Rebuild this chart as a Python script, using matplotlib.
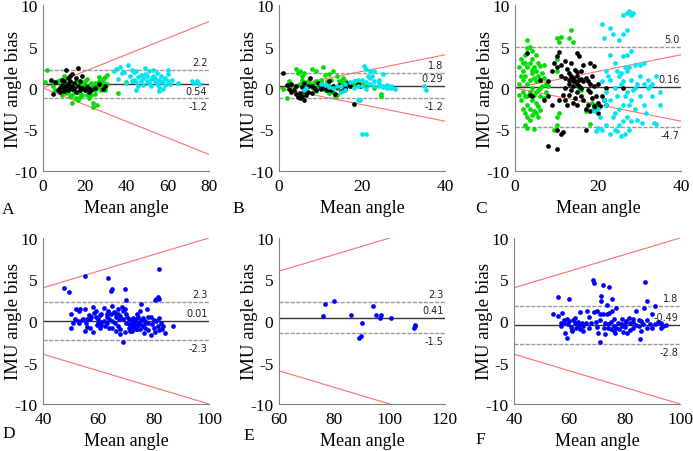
import numpy as np
import matplotlib
matplotlib.use("Agg")
import matplotlib.pyplot as plt

plt.rcParams["axes.unicode_minus"] = False

# ---- data (Bland-Altman style) ----
panel_letters = ["A", "B", "C", "D", "E", "F"]
x_limits = [(0, 80), (0, 40), (0, 40), (40, 100), (60, 120), (40, 100)]
x_ticks = [[0, 20, 40, 60, 80], [0, 20, 40], [0, 20, 40],
           [40, 60, 80, 100], [60, 80, 100, 120], [40, 60, 80, 100]]
y_ticks = [-10, -5, 0, 5, 10]

bias_mean = [0.54, 0.29, 0.16, 0.01, 0.41, -0.49]
loa_upper = [2.2, 1.8, 5.0, 2.3, 2.3, 1.8]
loa_lower = [-1.2, -1.2, -4.7, -2.3, -1.5, -2.8]
mean_text = ["0.54", "0.29", "0.16", "0.01", "0.41", "-0.49"]
upper_text = ["2.2", "1.8", "5.0", "2.3", "2.3", "1.8"]
lower_text = ["-1.2", "-1.2", "-4.7", "-2.3", "-1.5", "-2.8"]
mean_label_below = [True, False, False, False, False, False]
ref_slope = 0.1  # +-10 % of mean angle

a_green = [(2,2.2),(1,0.7),(4,0.8),(5,0.3),(6,-0.3),(7,0.9),(8,1.0),(9,0.4),(10,-0.2),(11,0.1),
           (12,-0.5),(13,-1.0),(14,-1.8),(14,-0.8),(15,-0.4),(16,-1.2),(17,-1.5),(18,0.2),(18,-0.6),
           (19,0.5),(20,-0.3),(20,0.8),(21,-0.8),(21,0.3),(22,-0.1),(23,0.6),(24,-1.8),(24,-2.3),
           (25,-0.2),(26,-2.0),(26,0.4),(27,0.9),(27,1.3),(28,0.2),(28,-0.2),(29,0.7),(29,1.1),
           (30,0.0),(30,-0.3),(31,0.5),(31,1.6),(30,1.3),(29,-0.1),(27,0.0),(25,0.6),(23,-0.9),
           (22,-1.2),(19,-0.9),(17,0.4),(16,0.9),(15,-0.1),(13,0.3),(12,0.6),(11,-0.6),(10,1.4),
           (9,-0.9),(8,0.1),(36,-0.6),(40,0.7),(21,1.1),(18,-1.1),(25,-0.7),(28,0.6),(24,0.2),
           (20,0.1),(17,-0.5),(14,0.5)]
a_black = [(4,1.0),(5,-0.7),(6,0.7),(7,-0.2),(8,-0.5),(9,1.0),(9,0.4),(10,0.0),(10,0.8),(11,0.2),
           (11,2.2),(12,0.5),(12,-0.3),(13,0.9),(13,1.5),(14,0.3),(14,1.7),(15,0.0),(15,0.6),
           (16,1.2),(16,-0.5),(17,2.4),(17,0.3),(18,0.8),(18,-0.2),(19,1.5),(19,0.0),(20,-0.3),
           (21,0.1),(22,-0.5),(23,-0.2),(25,0.0),(27,0.5),(29,-0.1),(30,0.3),(8,0.0),(10,-0.4),
           (13,0.0),(14,-0.1),(22,0.0),(12,1.2)]
a_cyan = [(34,2.0),(35,2.3),(36,1.1),(37,2.5),(38,1.8),(40,0.6),(41,2.8),(42,1.5),(43,2.2),(44,1.9),
          (44,1.0),(45,2.0),(45,0.7),(46,1.3),(46,0.2),(47,1.6),(47,0.9),(48,1.2),(48,0.4),(49,2.4),
          (49,1.7),(50,0.9),(50,1.4),(51,0.6),(51,2.0),(52,1.1),(52,0.3),(53,1.5),(53,2.2),(54,0.8),
          (54,1.2),(55,0.5),(55,1.8),(56,1.0),(56,0.1),(57,1.4),(57,0.7),(58,0.9),(58,-0.1),(59,1.2),
          (59,0.4),(60,2.2),(60,1.7),(60,0.8),(61,0.5),(62,1.0),(65,0.6),(72,0.9),(73,0.6),(74,0.8),
          (75,0.5),(43,0.8),(39,1.9),(45,-0.3),(56,-0.4)]

b_green = [(1,-0.1),(2,-1.2),(4,2.3),(4.5,1.8),(5,2.0),(5.5,1.5),(6,1.8),(7,0.8),(8,2.3),(9,2.0),
           (10,0.7),(10.5,2.5),(11,1.6),(12,1.7),(13,2.0),(14,1.5),(15,0.9),(16,0.8),(17,0.6),(18,0.5),
           (19,0.7),(20,0.5),(24.5,-0.7),(24.5,-1.0),(3,0.4),(4,0.2),(5,0.5),(6,0.7),(7,0.2),(8,0.1),
           (9,0.9),(10,0.4),(11,-0.2),(12,0.3),(13,-0.5),(13.5,-1.0),(14,0.0),(15,0.6),(16,-0.3),
           (17,0.2),(14.5,0.8),(12.5,1.0),(11.5,0.8),(9.5,0.0),(8.5,0.6),(6.5,-0.2),(7.5,0.5),
           (5.5,1.0),(3.5,0.0),(2.5,0.9),(18.5,0.9),(21,0.2),(23,0.0),(15.5,1.2),(13,0.3),(10,1.0),
           (11,0.1),(9,-0.4),(12,-0.6),(14,-0.9)]
b_black = [(1,1.8),(2,0.4),(2.5,-0.1),(3,0.5),(3.5,-0.3),(4,-0.7),(4.5,-1.1),(5,-1.2),(5,-0.6),
           (5.5,-1.0),(6,-1.4),(6,-0.4),(6.5,-0.8),(7,-0.5),(7,0.2),(7.5,1.2),(8,0.3),(8.5,0.0),
           (9,-0.2),(9.5,0.6),(10,-0.1),(10.5,0.3),(11,0.0),(11.5,-0.2),(12,0.8),(12.5,-0.3),(13,0.2),
           (13.5,-0.7),(14,0.1),(14.5,0.4),(15,-0.4),(15.5,0.2),(16,0.0),(17,0.3),(18,-1.9),(19,0.5),
           (19.5,0.3),(3,-0.5),(4,0.2),(5.5,0.1),(6,0.6),(8,-0.6),(10,0.1),(12,-0.1),(16.5,0.6)]
b_cyan = [(20.5,2.6),(21,2.3),(22,2.1),(23,2.0),(21.5,1.5),(25,1.7),(20,1.0),(19,1.0),(18,0.8),
          (17,0.7),(16,0.5),(22,0.5),(23,0.3),(24,0.2),(25,0.1),(26,0.0),(27,0.0),(28,-0.1),(23,0.9),
          (24,0.6),(26,0.4),(20,0.2),(21,-0.1),(19,0.3),(18,0.0),(15,0.3),(14,0.2),(13,0.0),(12,0.1),
          (11,0.4),(10,0.5),(22,1.2),(24,1.0),(25,0.3),(27,0.2),(35,0.3),(35.5,-0.2),(20,-5.6),
          (21,-5.6),(19,-1.5),(19.5,-1.5),(15,-0.5),(16,-0.2),(21,0.7),(22.5,1.5),(6,-0.3),(6.5,0.0)]

c_green = [(1,2.5),(1,0.5),(1.5,3.5),(1.5,-1.5),(2,2.0),(2,-0.5),(2,1.0),(2,-2.5),(2.5,4.0),(2.5,3.0),
           (2.5,1.5),(2.5,-1.0),(2.5,-3.0),(3,5.8),(3,4.8),(3,2.5),(3,0.5),(3,-2.0),(3,-3.5),(3,-4.8),
           (3.5,5.0),(3.5,3.0),(3.5,1.0),(3.5,-0.5),(3.5,-2.5),(4,4.5),(4,3.5),(4,1.8),(4,0.0),
           (4,-1.5),(4,-3.3),(4.5,2.5),(4.5,1.2),(4.5,-0.8),(4.5,-2.8),(4.5,-4.9),(5,4.0),(5,2.0),
           (5,0.8),(5,-1.8),(5,-3.0),(5.5,3.0),(5.5,1.5),(5.5,-0.3),(5.5,-2.2),(5.5,-3.5),(6,2.6),
           (6,1.0),(6,-1.0),(6,-2.6),(6.5,0.3),(6.5,1.8),(7,2.8),(7,1.2),(7,-1.2),(7.5,0.5),(7.5,-0.5),
           (8,0.2),(10,6.0),(10.5,5.5),(10,3.5),(10,2.0),(10.5,-3.0),(10,-4.5),(10,-3.5),(9.5,-5.0),
           (11,6.1),(13.5,7.0),(13,6.0),(14,5.5),(16,-0.3),(17,-2.8),(18,-4.3),(19,-2.5),(19.5,-2.0),
           (18.5,-1.8),(1.5,1.5),(2,3.0),(3,-1.0),(4,2.2),(5,-0.5),(6,0.0),(1,-0.8),(2.5,-4.5),
           (3.5,-3.8),(15.5,0.0)]
c_black = [(3,4.2),(3.5,-0.8),(4,-1.0),(6,1.0),(7,-1.5),(8,-7.0),(8,0.8),(9,2.0),(9.5,3.0),(10,3.8),
           (10,-7.3),(10,2.5),(10,-5.0),(10.5,4.3),(11,1.5),(11,-5.5),(11.5,-5.3),(11,2.8),(12,3.2),
           (12,0.0),(12,-1.5),(12.5,2.3),(13,0.5),(13,-0.8),(13,1.8),(13.5,3.0),(13.5,-0.3),(14,1.2),
           (14,0.2),(14,-1.8),(14.5,2.2),(14.5,0.8),(15,4.2),(15,1.5),(15,0.5),(15,-0.5),(15,-2.0),
           (15.5,3.8),(15.5,1.0),(16,0.0),(16,-1.0),(16,2.0),(16.5,0.8),(16.5,-1.5),(17,-2.5),
           (17,1.2),(17,-5.0),(17.5,-0.2),(17.5,-2.0),(18,3.0),(18,-0.5),(18,-2.8),(18.5,1.5),
           (18.5,-1.2),(19,2.6),(19,0.2),(19,-2.2),(19.5,-1.0),(20,0.5),(20,-1.8),(20,-3.0),(21,-1.0),
           (21.5,-1.5),(22,0.0),(22,-2.0),(14,0.9),(13,1.0),(15.5,0.2),(16,1.1),(12,1.2),(11.5,-0.8),
           (14.5,-1.2),(10.5,-1.5),(17.5,0.8),(18,0.5),(16.5,2.8),(13.5,1.5),(12.5,-2.0),(9,-2.0),
           (8,-1.0),(19.5,-2.5),(20.5,-2.2),(26,0.0),(15,1.9)]
c_cyan = [(21,7.7),(21.5,6.0),(22,2.0),(22,-2.0),(22,-4.5),(23,7.2),(23,4.0),(23,1.0),(23,-1.5),
          (23,-5.5),(23.5,6.5),(24,3.0),(24,0.0),(24,-3.0),(24,-5.0),(24.5,2.0),(24.5,-1.0),(25,5.8),
          (25,1.5),(25,-2.5),(25,-4.5),(25.5,0.5),(25.5,-5.8),(26,8.8),(26,6.5),(26,3.8),(26,0.8),
          (26,-2.0),(26,-4.0),(26.5,-1.0),(26.5,-5.5),(27,9.0),(27,7.0),(27,4.0),(27,2.0),(27,-0.5),
          (27,-3.5),(27.5,9.3),(27.5,2.5),(27.5,-5.0),(28,8.8),(28,4.5),(28,1.0),(28,-1.5),(28,-4.0),
          (28.5,9.0),(29,2.8),(29,0.0),(29,-2.5),(29.5,-3.8),(30,1.5),(30,-1.0),(30,2.8),(31,0.5),
          (31,-2.0),(31.5,-3.0),(32,0.0),(32,1.0),(32.5,0.3),(33,-1.0),(33,0.5),(33.5,-4.2),(34,-4.3),
          (34,1.5),(35,-2.0),(35,-0.5),(20,-2.5),(20,-4.8),(20.5,-3.5),(21,-5.0),(21,0.8),(22,-0.5),
          (19.5,-5.2),(19,-2.8),(23.5,-3.5),(24.5,-5.2),(25.5,1.8),(29.5,0.5),(30.5,-4.2),(26.5,2.5),
          (27.5,-2.0),(28.5,-0.3),(31,3.0),(22.5,1.5),(21.5,-1.5)]

d_blue = [(47.5,4.0),(49.5,3.5),(55,5.4),(63.5,5.2),(65,3.8),(64.5,3.6),(69.5,3.9),(70,2.5),(82,6.3),
          (81,2.7),(81.5,2.9),(82,2.6),(80.5,2.5),(50,0.9),(50,-0.8),(51,-0.2),(51.5,0.3),(52,1.5),
          (52.5,0.0),(53,1.2),(53.5,1.5),(54,0.1),(54.5,0.3),(55,1.5),(55,-1.2),(55.5,-0.2),(56,0.3),
          (56.5,0.7),(57,-0.8),(57.5,0.5),(58,1.7),(58,-1.3),(58.5,1.0),(59,0.5),(59.5,-0.5),(60,0.2),
          (60,-0.2),(60.5,-0.9),(61,0.8),(61,-0.5),(62,1.6),(62,0.0),(62.5,-0.6),(63,0.9),(63,-0.2),
          (63.5,1.2),(64,0.3),(64,-0.9),(64.5,0.8),(65,1.8),(65,0.0),(65.5,1.1),(66,-0.3),(66.5,0.5),
          (67,1.5),(67,-0.6),(67.5,0.2),(68,-1.0),(68,0.6),(68.5,1.7),(69,-2.5),(69,0.3),(69.5,1.5),
          (69.5,-1.3),(70,-0.3),(70.5,0.5),(71,-0.8),(71,0.2),(71.5,-1.2),(72,0.0),(72,-0.5),
          (72.5,0.4),(72.5,-0.9),(73,0.0),(73,-0.3),(73.5,-1.0),(73.5,0.2),(74,-0.6),(74,0.8),
          (74.5,-0.2),(75,1.2),(75,-1.0),(75.5,2.0),(75.5,0.1),(76,-0.6),(76.5,-1.4),(77,0.0),
          (77,-0.8),(77.5,1.5),(78,-0.3),(78,-1.1),(79,0.5),(79,-1.7),(79.5,-0.4),(80,0.1),(80,-0.9),
          (80.5,-1.3),(81,0.0),(81.5,-0.6),(82,0.4),(82,-1.1),(82.5,-0.2),(83,-1.0),(83.5,-0.6),
          (84,-1.4),(87,-0.6),(57,0.3),(59,1.2),(61,-0.1),(66,1.0),(70,0.8),(74,-1.0),(76,0.4),
          (78,0.5),(73,-0.7),(71,-0.4),(75,-0.4),(72,-1.2),(68,-1.6),(63,0.5),(60.5,0.7),(56,-0.7),
          (53,-0.3),(65,-0.8),(67,0.8),(69,1.2),(77,-0.3),(74.5,0.5),(66.5,-1.2)]
e_blue = [(76.5,2.0),(76,0.6),(80,2.4),(86,0.7),(90,-0.2),(89.5,-1.8),(89,-2.1),(94,1.8),(95,0.7),
          (96.5,0.4),(97,0.7),(100.5,0.4),(108.8,-0.8),(109.3,-0.5),(109,-0.6)]
f_blue = [(54,0.9),(56,2.9),(56,0.6),(57.5,1.0),(57,-0.6),(58,-0.2),(58.5,-1.4),(59,-2.0),(59,0.2),
          (59.5,-0.4),(60,2.7),(60,0.0),(60.5,-0.7),(61,-1.1),(61.5,0.1),(62,-0.3),(62.5,-0.8),
          (63,-0.1),(63.5,-0.5),(64,1.1),(64,-1.0),(64.5,-0.3),(65,-0.6),(66,-0.2),(66.5,1.2),
          (67,-0.8),(68,-0.3),(68.5,4.9),(69,4.6),(69,1.1),(69.5,-0.1),(70,-0.7),(70,1.2),(70.5,-1.5),
          (71,0.8),(71,-2.5),(71.5,2.4),(71.5,3.0),(72,4.3),(72,0.9),(72.5,-0.9),(73,-1.6),(73.5,0.8),
          (73.5,1.9),(74,-0.4),(74.5,4.1),(74.5,1.0),(75,-1.0),(75,-0.1),(75.5,1.2),(75.5,2.7),
          (76,-0.6),(76,0.3),(76.5,-1.4),(77,1.6),(77,-0.8),(77.5,-0.2),(78,-1.0),(78.5,-0.4),
          (79,0.2),(79.5,-1.3),(80,-0.7),(80.5,0.0),(81,-1.4),(81.5,0.4),(82,-0.3),(82,-1.1),(83,0.2),
          (83,-0.8),(84,-0.5),(84,1.2),(85,-0.6),(85.5,-2.2),(86,0.0),(86,-1.2),(86.5,-0.4),(87,1.6),
          (87.5,4.7),(88,2.4),(88,-0.8),(89,-0.4),(90,0.9),(90,-0.9),(91,1.8),(91,-0.4),(92,-0.1),
          (93,-0.2),(93,-0.9),(94,-0.6),(95,-0.5),(58,0.1),(62,0.4),(65,-1.2),(67,0.5),(71,0.1),
          (73,-0.3),(76,-1.2),(79,-0.6),(83,-0.1),(85,0.1),(88,0.1),(74,-0.8),(80,-0.2),(57,-0.3),
          (61,-1.2)]

GREEN, BLACK, CYAN, BLUE = "#00dd00", "#000000", "#00e5f0", "#0000ff"
panel_series = [
    [(a_green, GREEN), (a_black, BLACK), (a_cyan, CYAN)],
    [(b_green, GREEN), (b_black, BLACK), (b_cyan, CYAN)],
    [(c_green, GREEN), (c_black, BLACK), (c_cyan, CYAN)],
    [(d_blue, BLUE)],
    [(e_blue, BLUE)],
    [(f_blue, BLUE)],
]

# ---- layout in pixels ----
W, H = 693, 452
axes_px = [(43, 6), (279, 6), (515, 6), (43, 239), (279, 239), (514, 239)]  # left, top
ax_w, ax_h = 166, 166
letter_px = [(2, 214), (232, 213), (475, 213), (2, 438), (243, 440), (475, 444)]

serif = "Liberation Serif"
fig = plt.figure(figsize=(W / 100, H / 100), dpi=100)

for i in range(6):
    left, top = axes_px[i]
    ax = fig.add_axes([left / W, (H - top - ax_h) / H, ax_w / W, ax_h / H])
    x0, x1 = x_limits[i]

    ax.axline((0, 0), slope=ref_slope, color="#ff7070", lw=0.8, zorder=1)
    ax.axline((0, 0), slope=-ref_slope, color="#ff7070", lw=0.8, zorder=1)
    ax.axhline(loa_upper[i], color="#999999", lw=1.0, ls=(0, (3, 1)), zorder=1)
    ax.axhline(loa_lower[i], color="#999999", lw=1.0, ls=(0, (3, 1)), zorder=1)
    ax.axhline(bias_mean[i], color="#333333", lw=1.0, zorder=1)

    for pts, col in panel_series[i]:
        arr = np.array(pts)
        ax.plot(arr[:, 0], arr[:, 1], "o", ms=3.4, mec="none", mfc=col, zorder=3)

    # value labels at right end of the lines
    tx = x1 - 0.01 * (x1 - x0)
    ax.text(tx, loa_upper[i] + 0.35, upper_text[i], ha="right", va="bottom", fontsize=7, color="#222222")
    ax.text(tx, loa_lower[i] - 0.35, lower_text[i], ha="right", va="top", fontsize=7, color="#222222")
    if mean_label_below[i]:
        ax.text(tx, bias_mean[i] - 0.35, mean_text[i], ha="right", va="top", fontsize=7, color="#222222")
    else:
        ax.text(tx, bias_mean[i] + 0.35, mean_text[i], ha="right", va="bottom", fontsize=7, color="#222222")

    ax.set_xlim(x0, x1)
    ax.set_ylim(-10, 10)
    ax.set_xticks(x_ticks[i])
    ax.set_yticks(y_ticks)
    for sp in ["top", "right"]:
        ax.spines[sp].set_visible(False)
    for sp in ["left", "bottom"]:
        ax.spines[sp].set_color("#808080")
    ax.tick_params(length=0, labelsize=12.5)
    ax.tick_params(axis="x", pad=5)
    ax.tick_params(axis="y", pad=4)
    for lab in ax.get_xticklabels() + ax.get_yticklabels():
        lab.set_fontfamily(serif)
    ax.set_xlabel("Mean angle", fontsize=13, family=serif)
    ax.xaxis.set_label_coords(0.5, -0.17)
    ax.set_ylabel("IMU angle bias", fontsize=13.5, family=serif)
    ax.yaxis.set_label_coords(-0.1235, 0.5)

    lx, ly = letter_px[i]
    fig.text(lx / W, (H - ly) / H, panel_letters[i], fontsize=12.5, family=serif, ha="left", va="baseline")

fig.savefig("out.png", dpi=100)
